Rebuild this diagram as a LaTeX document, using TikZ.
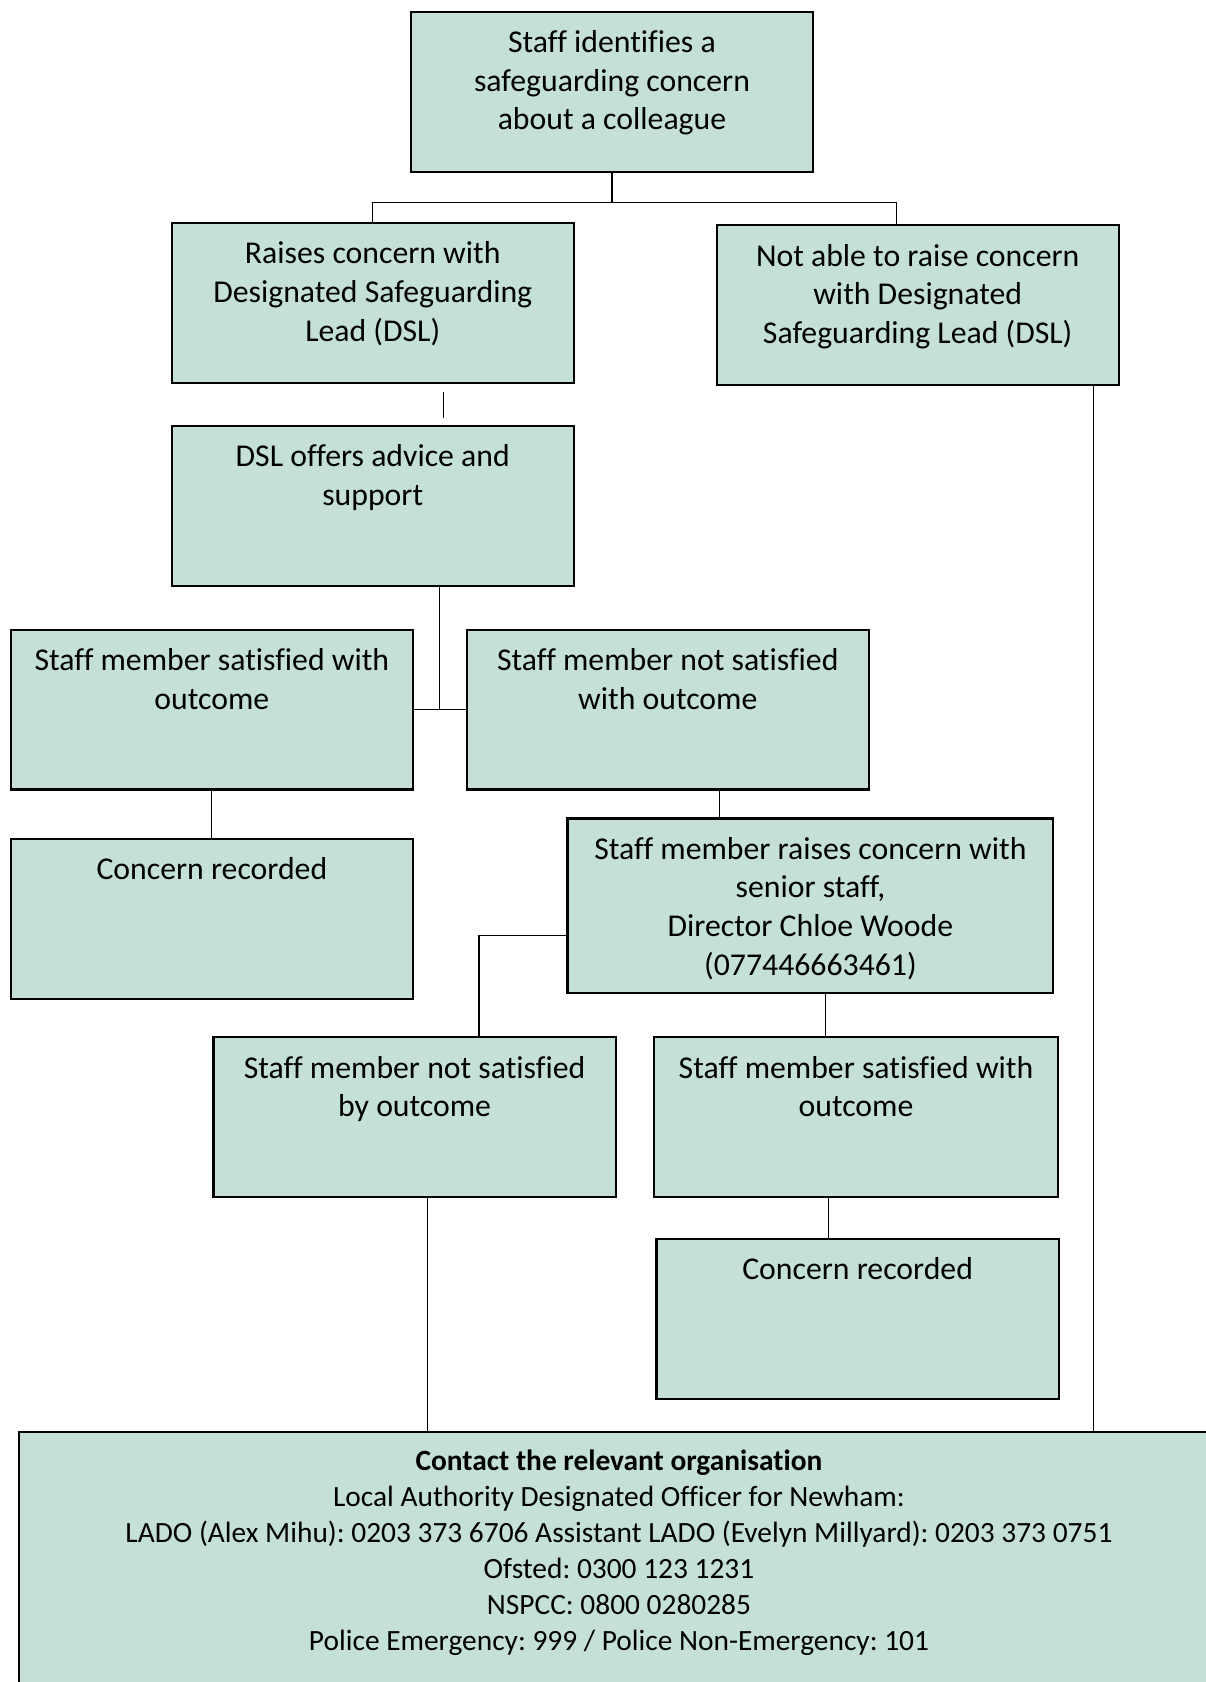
\documentclass[tikz,border=0pt]{standalone}
\usepackage{fontspec}
\setmainfont{Carlito}[Ligatures=CommonOff]
\usepackage{xcolor}
\usepackage{tikz}

\definecolor{boxfill}{RGB}{197,224,214}
\newcommand{\boxtxt}[3]{\parbox[c][#2][t]{#1}{\centering\rule{0pt}{19pt}#3}}
\frenchspacing

\begin{document}
\begin{tikzpicture}[x=0.5pt,y=-0.5pt,
  every node/.style={draw,fill=boxfill,line width=1pt,inner sep=0pt,
    anchor=north west,font=\fontsize{14.8}{18}\selectfont},
  link/.style={line width=0.5pt}]
  \useasboundingbox (0,0) rectangle (1124,1568);

  \node (concern)   at (382,10)  {\boxtxt{187.5pt}{74.5pt}{Staff identifies a\\ safeguarding concern\\ about a colleague}};
  \node (raisedsl)  at (159,207) {\boxtxt{187.5pt}{74.5pt}{Raises concern with\\ Designated Safeguarding\\ Lead (DSL)}};
  \node (notable)   at (667,209) {\boxtxt{187.5pt}{74.5pt}{Not able to raise concern\\ with Designated\\ Safeguarding Lead (DSL)}};
  \node (dsladvice) at (159,396) {\boxtxt{187.5pt}{74.5pt}{DSL offers advice and\\ support}};
  \node (satisfied) at (9,586)   {\boxtxt{187.5pt}{74.5pt}{Staff member satisfied with\\ outcome}};
  \node (notsat)    at (434,586) {\boxtxt{187.5pt}{74.5pt}{Staff member not satisfied\\ with outcome}};
  \node (recorded)  at (9,781)   {\boxtxt{187.5pt}{74.5pt}{Concern recorded}};
  \node (senior)    at (528,762) {\boxtxt{226.5pt}{81.5pt}{Staff member raises concern with\\ senior staff,\\ Director Chloe Woode\\ (077446663461)}};
  \node (notsatby)  at (198,966) {\boxtxt{187.5pt}{74.5pt}{Staff member not satisfied\\ by outcome}};
  \node (satwith)   at (609,966) {\boxtxt{188pt}{74.5pt}{Staff member satisfied with\\ outcome}};
  \node (recordedb) at (611,1154){\boxtxt{187.5pt}{74.5pt}{Concern recorded}};
  \node[font=\fontsize{13.7}{16.8}\selectfont] (contact) at (17,1334)
    {\parbox[c][123pt][t]{559pt}{\centering\rule{0pt}{17.7pt}\textbf{Contact the relevant organisation}\\
      Local Authority Designated Officer for Newham:\\
      LADO (Alex Mihu): 0203 373 6706 Assistant LADO (Evelyn Millyard): 0203 373 0751\\
      Ofsted: 0300 123 1231\\
      NSPCC: 0800 0280285\\
      Police Emergency: 999 / Police Non-Emergency: 101}};

  % connectors
  \draw[link] (concern.south) -- ++(0,28) coordinate (split);
  \draw[link] (raisedsl.north) |- (split) -| ([xshift=-10pt]notable.north);
  \draw[link,shorten <=3.5pt,shorten >=3pt] ([xshift=33pt]raisedsl.south) -- ([xshift=33pt]dsladvice.north);
  \draw[link] (satisfied.east) -- (notsat.west);
  \draw[link] ([xshift=31pt]dsladvice.south) coordinate (c1) -- (c1 |- satisfied.east);
  \draw[link] (satisfied.south) -- (recorded.north);
  \draw[link] ([xshift=24pt]notsat.south) coordinate (e1) -- (e1 |- senior.north);
  \draw[link] ([yshift=-14pt]senior.west) -| ([xshift=30pt]notsatby.north);
  \draw[link] ([xshift=7pt]senior.south) coordinate (g1) -- (g1 |- satwith.north);
  \draw[link] ([xshift=-13pt]satwith.south) coordinate (h1) -- (h1 |- recordedb.north);
  \draw[link] ([xshift=6pt]notsatby.south) coordinate (i1) -- (i1 |- contact.north);
  \draw[link] ([xshift=82pt]notable.south) coordinate (j1) -- (j1 |- contact.north);
\end{tikzpicture}
\end{document}
